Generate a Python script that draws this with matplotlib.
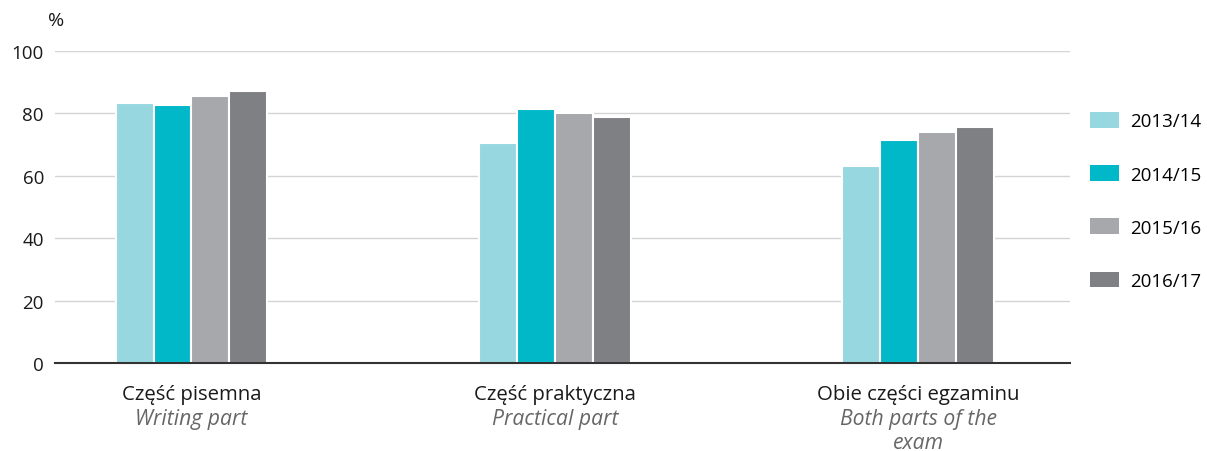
import matplotlib.pyplot as plt
import matplotlib.transforms as mtransforms
import numpy as np
from matplotlib.patches import Patch

plt.rcParams["font.family"] = ["Open Sans", "DejaVu Sans"]

categories_pl = ["Część pisemna", "Część praktyczna", "Obie części egzaminu"]
categories_en = ["Writing part", "Practical part", "Both parts of the\nexam"]
years = ["2013/14", "2014/15", "2015/16", "2016/17"]
values = {
    "2013/14": [83.2, 70.4, 63.0],
    "2014/15": [82.7, 81.4, 71.6],
    "2015/16": [85.5, 80.0, 73.9],
    "2016/17": [87.3, 78.7, 75.7],
}
colors = ["#97d7e0", "#00b8c8", "#a7a8ac", "#7f8084"]

W, H = 1207, 452
fig = plt.figure(figsize=(W / 100, H / 100), dpi=100)
ax = fig.add_axes([55 / W, 1 - 364 / H, 1015 / W, 312 / H])

x = np.arange(len(categories_pl))
step = 0.1045
for i, (year, color) in enumerate(zip(years, colors)):
    ax.bar(x + (i - 1.5) * step, values[year], width=step, color=color,
           edgecolor="white", linewidth=1.5, zorder=3)

ax.set_xlim(-0.3755, 2.417)
ax.set_ylim(0, 100)
ax.set_yticks(range(0, 101, 20))
ax.yaxis.grid(True, color="#d4d4d4", linewidth=1)
ax.set_axisbelow(True)
for side in ["top", "right", "left"]:
    ax.spines[side].set_visible(False)
ax.spines["bottom"].set_color("#333333")
ax.spines["bottom"].set_linewidth(1.5)
ax.spines["bottom"].set_zorder(4)
ax.tick_params(axis="y", length=0, pad=8, labelsize=13.5, labelcolor="#1a1a1a")
ax.set_xticks([])

# category labels: Polish on top, English in italics underneath
trans = mtransforms.blended_transform_factory(ax.transData, fig.transFigure)
for xi, pl, en in zip(x, categories_pl, categories_en):
    ax.text(xi, 1 - 400 / H, pl, ha="center", va="baseline", fontsize=14.7,
            color="#1a1a1a", transform=trans, clip_on=False)
    for k, line in enumerate(en.split("\n")):
        ax.text(xi, 1 - (425 + 24 * k) / H, line, ha="center", va="baseline",
                fontsize=15.2, color="#666666", style="italic",
                transform=trans, clip_on=False)

fig.text(56 / W, 1 - 21 / H, "%", ha="center", va="center", fontsize=14,
         color="#1a1a1a")

handles = [Patch(facecolor=c, edgecolor="none") for c in colors]
fig.legend(handles, years, loc="center left", bbox_to_anchor=(1090 / W, 1 - 202 / H),
           frameon=False, fontsize=13.5, handlelength=1.55, handleheight=0.9,
           labelspacing=1.86, handletextpad=0.6, borderpad=0, borderaxespad=0)

fig.savefig("out.png", dpi=100)
